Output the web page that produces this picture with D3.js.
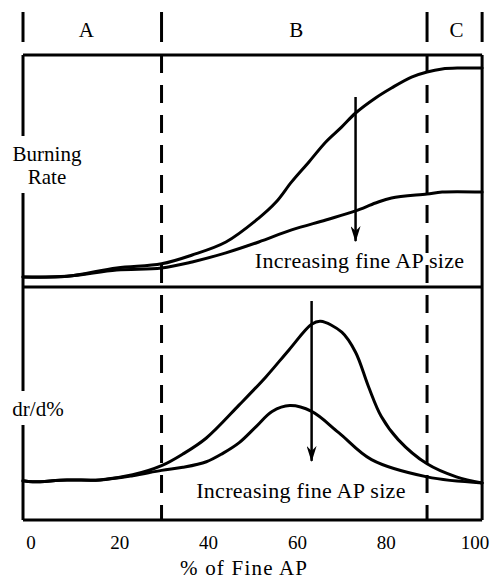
<!DOCTYPE html>
<html>
<head>
<meta charset="utf-8">
<script src="https://cdn.jsdelivr.net/npm/d3@7"></script>
<style>
  html, body { margin: 0; padding: 0; background: #fff; }
  svg text { font-family: "Liberation Serif", "Times New Roman", serif; fill: #000; }
</style>
</head>
<body>
<svg id="chart" width="490" height="580"></svg>
<script>
// ---------- data ----------
const xTicks = [0, 20, 40, 60, 80, 100];
const xTitle = "% of Fine AP";
const regionLabels = ["A", "B", "C"];
const regionEdges = [-1.8, 29.4, 89.2, 101.6];   // % of fine AP: plot start, boundaries, plot end

// Burning rate (relative units, 0-100)
const rateFine = [
  [-1.8, 4.3], [8.1, 4.6], [19.3, 8.2], [29.4, 10.0], [36.3, 13.8], [43.9, 19.4],
  [51.3, 29.7], [55.2, 36.6], [58.7, 45.3], [62.6, 53.9], [66.4, 62.5], [70.0, 69.0],
  [73.1, 75.0], [77.6, 81.5], [81.2, 85.8], [85.7, 90.5], [89.2, 92.7], [92.6, 94.0],
  [96.5, 94.4], [101.6, 94.4]
];
const rateCoarse = [
  [-1.8, 4.3], [8.1, 4.6], [19.3, 7.3], [29.4, 8.2], [36.3, 10.8], [43.9, 14.7],
  [51.3, 19.4], [58.7, 24.6], [66.4, 28.9], [73.1, 32.8], [77.6, 36.2], [81.2, 38.4],
  [89.2, 40.1], [92.6, 40.9], [101.6, 40.9]
];
// dr/d% (relative units, 0-100)
const slopeFine = [
  [-1.8, 16.8], [0.4, 16.4], [8.1, 17.2], [15.5, 17.2], [22.9, 19.4], [29.4, 23.3],
  [34.2, 28.3], [39.5, 35.2], [46.9, 49.4], [52.9, 61.4], [58.1, 73.0], [63.2, 84.0],
  [65.2, 85.3], [70.0, 80.6], [73.1, 72.0], [76.0, 57.3], [78.9, 44.4], [82.7, 34.5],
  [89.2, 24.1], [95.8, 18.5], [101.6, 15.9]
];
const slopeCoarse = [
  [-1.8, 16.8], [0.4, 16.4], [8.1, 17.2], [15.5, 17.2], [22.9, 19.0], [29.4, 21.3],
  [34.2, 22.6], [39.5, 25.0], [43.2, 28.6], [46.9, 33.2], [50.7, 40.1], [54.3, 46.6],
  [58.3, 49.1], [63.2, 46.6], [69.3, 37.5], [76.7, 25.9], [89.2, 18.5], [101.6, 15.9]
];
// annotations: [x, yFrom, yTo] and text [x, y]
const arrowTop = [73.1, 81.9, 17.2];
const arrowBottom = [63.2, 94.0, 22.8];
const noteText = "Increasing fine AP size";
const noteTop = [74.0, 8.2];
const noteBottom = [60.8, 9.5];
const yLabelTop = ["Burning", "Rate"];
const yLabelBottom = "dr/d%";

// ---------- layout ----------
const svg = d3.select("#chart");
const x = d3.scaleLinear().domain([0, 100]).range([31, 475]);
const L = x(regionEdges[0]), R = x(regionEdges[regionEdges.length - 1]);
const T = 55, MID = 287, B = 520;
const yTop = d3.scaleLinear().domain([0, 100]).range([MID, T]);
const yBot = d3.scaleLinear().domain([0, 100]).range([B, MID]);

// defs: arrowhead (drawn along +x, oriented by the line)
svg.append("defs").append("marker")
  .attr("id", "ah").attr("viewBox", "0 0 16 10").attr("refX", 15).attr("refY", 5)
  .attr("markerWidth", 16).attr("markerHeight", 10).attr("markerUnits", "userSpaceOnUse")
  .attr("orient", "auto")
  .append("path").attr("d", "M0,0 L16,5 L0,10 L5,5 Z").attr("fill", "#000");

// region header bars and letters
const hdr = svg.append("g");
hdr.selectAll("line").data(regionEdges).join("line")
  .attr("x1", d => x(d)).attr("x2", d => x(d)).attr("y1", 12).attr("y2", 42)
  .attr("stroke", "#000").attr("stroke-width", 3);
hdr.selectAll("text").data(regionLabels).join("text")
  .attr("x", (d, i) => x((regionEdges[i] + regionEdges[i + 1]) / 2) + (i === 0 ? -6 : 2))
  .attr("y", 37).attr("text-anchor", "middle").attr("font-size", 21).text(d => d);

// frame
const frame = svg.append("g").attr("stroke", "#000").attr("stroke-width", 3).attr("fill", "none");
frame.append("line").attr("x1", L).attr("x2", R).attr("y1", T).attr("y2", T);
frame.append("line").attr("x1", L).attr("x2", R).attr("y1", MID).attr("y2", MID);
frame.append("line").attr("x1", L).attr("x2", R).attr("y1", B).attr("y2", B);
frame.append("line").attr("x1", R).attr("x2", R).attr("y1", T).attr("y2", B);
frame.append("line").attr("x1", L).attr("x2", L).attr("y1", T).attr("y2", B);

// dashed region boundaries
svg.append("g").selectAll("line").data(regionEdges.slice(1, 3)).join("line")
  .attr("x1", d => x(d)).attr("x2", d => x(d)).attr("y1", T).attr("y2", B)
  .attr("stroke", "#000").attr("stroke-width", 3).attr("stroke-dasharray", "18,12");

// curves
const crv = d3.curveCatmullRom.alpha(0.5);
const lineTop = d3.line().x(d => x(d[0])).y(d => yTop(d[1])).curve(crv);
const lineBot = d3.line().x(d => x(d[0])).y(d => yBot(d[1])).curve(crv);
const curves = svg.append("g").attr("fill", "none").attr("stroke", "#000")
  .attr("stroke-width", 3).attr("stroke-linejoin", "round").attr("stroke-linecap", "round");
curves.append("path").attr("d", lineTop(rateFine));
curves.append("path").attr("d", lineTop(rateCoarse));
curves.append("path").attr("d", lineBot(slopeFine));
curves.append("path").attr("d", lineBot(slopeCoarse));

// arrows
function arrow(a, ys) {
  svg.append("line").attr("x1", x(a[0])).attr("x2", x(a[0]))
    .attr("y1", ys(a[1])).attr("y2", ys(a[2]) - 6)
    .attr("stroke", "#000").attr("stroke-width", 2.5).attr("marker-end", "url(#ah)");
}
arrow(arrowTop, yTop);
arrow(arrowBottom, yBot);

// notes
[[noteTop, yTop], [noteBottom, yBot]].forEach(([p, ys]) => {
  svg.append("text").attr("x", x(p[0])).attr("y", ys(p[1]))
    .attr("text-anchor", "middle").attr("font-size", 22).attr("letter-spacing", 0.3)
    .text(noteText);
});

// y labels with white background breaking the left axis
function yLabel(lines, yBase, cx, step) {
  const g = svg.append("g");
  const bg = g.append("rect").attr("fill", "#fff");
  const t = g.append("text").attr("text-anchor", "middle").attr("font-size", 21);
  lines.forEach((s, i) => t.append("tspan").attr("x", cx).attr("y", yBase + i * step).text(s));
  const bb = t.node().getBBox();
  bg.attr("x", bb.x - 2).attr("y", bb.y - 6).attr("width", bb.width + 4).attr("height", bb.height + 10);
}
yLabel(yLabelTop, 161, 47, 23);
yLabel([yLabelBottom], 416, 38, 0);

// x axis tick labels and title
svg.append("g").selectAll("text").data(xTicks).join("text")
  .attr("x", d => x(d)).attr("y", 549).attr("text-anchor", "middle")
  .attr("font-size", 19).text(d => d);
svg.append("text").attr("x", x(48)).attr("y", 575).attr("text-anchor", "middle")
  .attr("font-size", 21).attr("letter-spacing", 1.2).text(xTitle);
</script>
</body>
</html>
